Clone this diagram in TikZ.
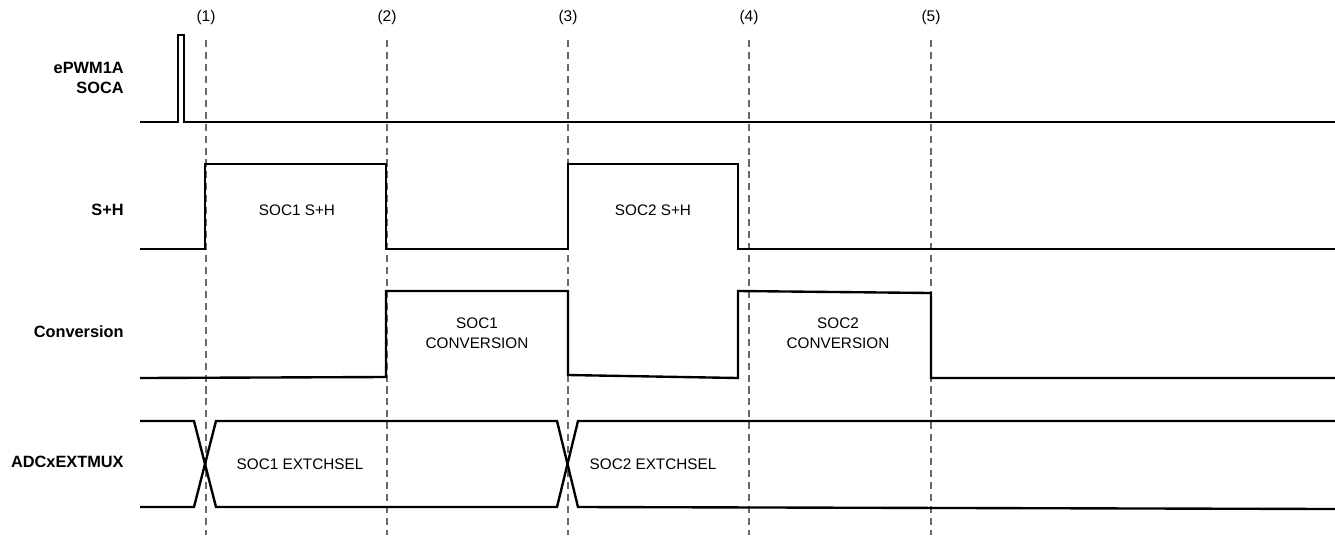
\documentclass[tikz,border=0pt]{standalone}
\usepackage{fontspec}
\setmainfont{Liberation Sans}
\usetikzlibrary{positioning}
\definecolor{TimGray}{RGB}{105,105,105}
\tikzset{
  tim/wave/.style={draw=black, line width=1.35pt, line join=miter},
  tim/marker/.style={draw=TimGray, line width=0.75pt, dash pattern=on 4pt off 2.8pt},
  tim/signal/.style={font=\fontsize{9.3}{11.5}\selectfont\bfseries, align=right, anchor=east, inner sep=0pt},
  tim/phase/.style={font=\fontsize{8.7}{11.5}\selectfont, align=center, inner sep=0pt},
  tim/index/.style={font=\fontsize{8.8}{10}\selectfont, inner sep=0pt}
}
\begin{document}
\begin{tikzpicture}[x=0.02cm,y=-0.02cm]
  \useasboundingbox (0,0) rectangle (1335,535);
  % event markers
  \foreach \x/\n in {206/1,387/2,568/3,749/4,931/5}{
    \node[tim/index] (ev\n) at (\x,17) {(\n)};
    \draw[tim/marker] (\x,40) -- (\x,535);
  }
  % signal names
  \node[tim/signal] (socaname) at (124,78) {ePWM1A\\SOCA};
  \node[tim/signal] (shname) at (124,210) {S+H};
  \node[tim/signal] (convname) at (124,332) {Conversion};
  \node[tim/signal] (muxname) at (124,462) {ADCxEXTMUX};
  % waveforms
  \draw[tim/wave] (140,122) -- (178,122) -- (178,35) -- (184,35) -- (184,122) -- (1335,122);
  \draw[tim/wave] (140,249) -- (205,249) -- (205,164) -- (386,164) -- (386,249) -- (568,249)
    -- (568,164) -- (738,164) -- (738,249) -- (1335,249);
  \draw[tim/wave] (140,378) -- (386,377) -- (386,291) -- (568,291) -- (568,375) -- (738,378)
    -- (738,291) -- (931,293) -- (931,378) -- (1335,378);
  \draw[tim/wave] (140,421) -- (194,421) -- (216,507) -- (557,507) -- (578,421) -- (1335,421);
  \draw[tim/wave] (140,507) -- (194,507) -- (216,421) -- (557,421) -- (578,507) -- (1335,509);
  % phase labels
  \node[tim/phase] (sh1) at (297,210) {SOC1 S+H};
  \node[tim/phase] (sh2) at (653,210) {SOC2 S+H};
  \node[tim/phase] (conv1) at (477,333) {SOC1\\CONVERSION};
  \node[tim/phase] (conv2) at (838,333) {SOC2\\CONVERSION};
  \node[tim/phase] (sel1) at (300,464) {SOC1 EXTCHSEL};
  \node[tim/phase] (sel2) at (653,464) {SOC2 EXTCHSEL};
\end{tikzpicture}
\end{document}
